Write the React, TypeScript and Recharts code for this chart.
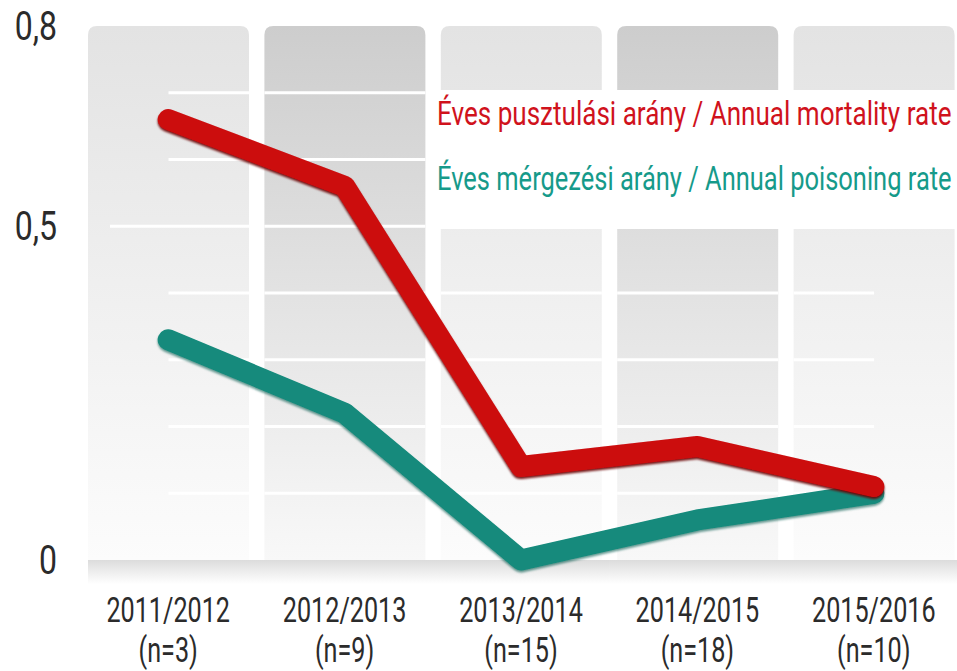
import { ComposedChart, Bar, Line, XAxis, YAxis, Legend } from "recharts";

const seasons = ["2011/2012", "2012/2013", "2013/2014", "2014/2015", "2015/2016"];
const sampleSizes = ["(n=3)", "(n=9)", "(n=15)", "(n=18)", "(n=10)"];
const mortality = [0.66, 0.56, 0.14, 0.17, 0.11];
const poisoning = [0.33, 0.22, 0.0, 0.06, 0.1];
const yTicks = [0, 0.5, 0.8];
const gridValues = [0.1, 0.2, 0.3, 0.4, 0.5, 0.6, 0.7];
const AXIS_MAX = 0.8;

const mortalityLabel = "Éves pusztulási arány / Annual mortality rate";
const poisoningLabel = "Éves mérgezési arány / Annual poisoning rate";

const data = seasons.map((s, i) => ({
  season: s,
  n: sampleSizes[i],
  column: AXIS_MAX,
  mortality: mortality[i],
  poisoning: poisoning[i],
}));

const FONT = "Roboto, 'Open Sans', sans-serif";

function Column(props: any) {
  const { x, y, width, height, index } = props;
  const r = 9;
  const fill = index % 2 ? "url(#colDark)" : "url(#colLight)";
  const d = `M${x},${y + height} V${y + r} Q${x},${y} ${x + r},${y} H${x + width - r} Q${x + width},${y} ${x + width},${y + r} V${y + height} Z`;
  const yOf = (v: number) => y + height * (1 - v / AXIS_MAX);
  const cx = x + width / 2;
  const last = index === seasons.length - 1;
  return (
    <g>
      <path d={d} fill={fill} />
      {gridValues.map((v) => {
        let x1 = x;
        let x2 = x + width;
        if (index === 0) x1 = v === 0.5 ? x + 22 : cx;
        if (last) x2 = cx;
        return <line key={v} x1={x1} x2={x2} y1={yOf(v)} y2={yOf(v)} stroke="#fff" strokeWidth={3} />;
      })}
      <rect
        x={index === 0 ? x : x - 8}
        y={y + height}
        width={index === 0 ? width + 8 : width + 16}
        height={24}
        fill="url(#floor)"
      />
    </g>
  );
}

function SeasonTick(props: any) {
  const { x, y, payload, index } = props;
  return (
    <g transform={`translate(${x},${y})`}>
      <text x={0} y={62} textAnchor="middle" fill="#2b2b2b" fontFamily={FONT} fontSize={35} transform="scale(0.72,1)">
        {payload.value}
      </text>
      <text x={0} y={102} textAnchor="middle" fill="#2b2b2b" fontFamily={FONT} fontSize={35} transform="scale(0.72,1)">
        {sampleSizes[index]}
      </text>
    </g>
  );
}

function ValueTick(props: any) {
  const { y, payload } = props;
  const label = String(payload.value).replace(".", ",");
  return (
    <g transform={`translate(57,${y})`}>
      <text x={0} y={14} textAnchor="end" fill="#2b2b2b" fontFamily={FONT} fontSize={40} transform="scale(0.8,1)">
        {label}
      </text>
    </g>
  );
}

function LegendBox() {
  return (
    <svg width={527} height={139} style={{ display: "block", background: "#fff" }}>
      <g transform="translate(7,35) scale(0.79,1)">
        <text x={0} y={0} fill="#d0121c" fontFamily={FONT} fontSize={33}>
          {mortalityLabel}
        </text>
      </g>
      <g transform="translate(7,100) scale(0.772,1)">
        <text x={0} y={0} fill="#169a8a" fontFamily={FONT} fontSize={33}>
          {poisoningLabel}
        </text>
      </g>
    </svg>
  );
}

export default function App() {
  return (
    <div style={{ position: "absolute", left: 0, top: 0, width: 957, height: 671, overflow: "hidden", background: "#fff" }}>
      <ComposedChart width={962} height={671} data={data} margin={{ top: 26, right: 0, bottom: 0, left: 0 }}>
        <defs>
          <linearGradient id="colLight" x1="0" y1="0" x2="0" y2="1">
            <stop offset="0%" stopColor="#e3e3e3" />
            <stop offset="100%" stopColor="#fcfcfc" />
          </linearGradient>
          <linearGradient id="colDark" x1="0" y1="0" x2="0" y2="1">
            <stop offset="0%" stopColor="#cdcdcd" />
            <stop offset="100%" stopColor="#f8f8f8" />
          </linearGradient>
          <linearGradient id="floor" x1="0" y1="0" x2="0" y2="1">
            <stop offset="0%" stopColor="#dcdcdc" />
            <stop offset="100%" stopColor="#ffffff" />
          </linearGradient>
          <filter id="redShadow" x="-10%" y="-10%" width="120%" height="130%">
            <feDropShadow dx={0} dy={2} stdDeviation={0.8} floodColor="#6a0000" floodOpacity={0.9} />
          </filter>
          <filter id="greenShadow" x="-10%" y="-10%" width="120%" height="130%">
            <feDropShadow dx={0} dy={2} stdDeviation={0.8} floodColor="#06584d" floodOpacity={0.6} />
          </filter>
        </defs>
        <XAxis
          dataKey="season"
          height={111}
          axisLine={false}
          tickLine={false}
          tickSize={0}
          tickMargin={0}
          interval={0}
          tick={<SeasonTick />}
        />
        <YAxis
          type="number"
          domain={[0, AXIS_MAX]}
          ticks={yTicks}
          width={80}
          axisLine={false}
          tickLine={false}
          tickSize={0}
          tick={<ValueTick />}
        />
        <Legend
          layout="vertical"
          align="center"
          verticalAlign="middle"
          wrapperStyle={{ top: 90, left: 430, width: 527, height: 139 }}
          content={() => <LegendBox />}
        />
        <Bar dataKey="column" barSize={161} shape={<Column />} isAnimationActive={false} legendType="none" />
        <Line
          dataKey="poisoning"
          stroke="#138a7b"
          strokeWidth={21}
          strokeLinecap="round"
          strokeLinejoin="round"
          dot={false}
          activeDot={false}
          filter="url(#greenShadow)"
          isAnimationActive={false}
        />
        <Line
          dataKey="mortality"
          stroke="#cc0a0d"
          strokeWidth={21}
          strokeLinecap="round"
          strokeLinejoin="round"
          dot={false}
          activeDot={false}
          filter="url(#redShadow)"
          isAnimationActive={false}
        />
      </ComposedChart>
    </div>
  );
}
